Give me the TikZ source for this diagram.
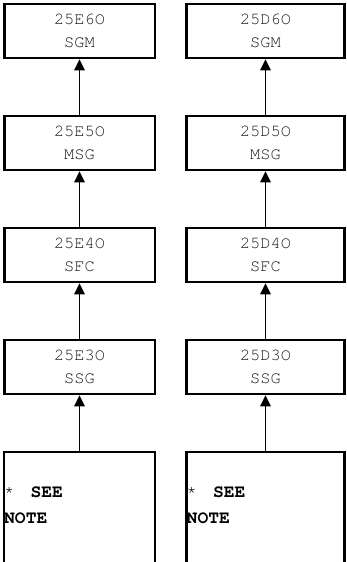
\documentclass[tikz,border=0pt]{standalone}
\usepackage{fontspec}
\setmonofont{texgyrecursor}[Extension=.otf, UprightFont=*-regular, BoldFont=*-bold, ItalicFont=*-italic, BoldItalicFont=*-bolditalic]
\usetikzlibrary{arrows.meta}
\begin{document}
\begin{tikzpicture}[x=1pt,y=-1pt,
  box/.style={draw=black, line width=2.7pt, minimum height=54pt, inner sep=0pt,
    align=center, font=\fontsize{17}{23}\selectfont\ttfamily, text=black!90},
  lbox/.style={box, minimum width=150.7pt},
  rbox/.style={box, minimum width=158pt},
  link/.style={line width=1.5pt, -{Triangle[length=11pt,width=10.5pt]}},
  opn/.style={line width=2.7pt},
  note/.style={anchor=west, inner sep=0pt, align=left,
    font=\fontsize{17}{26}\selectfont\ttfamily}
]
\useasboundingbox (0,0) rectangle (346,562);
% left column
\node[lbox] (l1) at (79.5,31) {25E6O\\SGM};
\node[lbox] (l2) at (79.5,143) {25E5O\\MSG};
\node[lbox] (l3) at (79.5,255) {25E4O\\SFC};
\node[lbox] (l4) at (79.5,367) {25E3O\\SSG};
% right column
\node[rbox] (r1) at (265.5,31) {25D6O\\SGM};
\node[rbox] (r2) at (265.5,143) {25D5O\\MSG};
\node[rbox] (r3) at (265.5,255) {25D4O\\SFC};
\node[rbox] (r4) at (265.5,367) {25D3O\\SSG};
% open bottom boxes
\draw[opn] (4,562) -- (4,452) -- (154.85,452) -- (154.85,562);
\draw[opn] (186.5,562) -- (186.5,452) -- (344.5,452) -- (344.5,562);
\coordinate (l5) at (79.5,450.65);
\coordinate (r5) at (265.5,450.65);
\node[note] (ln) at (4,505) {*~\hspace{6pt}{\fontsize{18}{26}\selectfont\bfseries SEE}\\{\fontsize{18}{26}\selectfont\bfseries NOTE}};
\node[note] (rn) at (186.5,505) {*~\hspace{6pt}{\fontsize{18}{26}\selectfont\bfseries SEE}\\{\fontsize{18}{26}\selectfont\bfseries NOTE}};
% connectors
\draw[link] (l2.north) -- (l1.south);
\draw[link] (l3.north) -- (l2.south);
\draw[link] (l4.north) -- (l3.south);
\draw[link] (l5) -- (l4.south);
\draw[link] (r2.north) -- (r1.south);
\draw[link] (r3.north) -- (r2.south);
\draw[link] (r4.north) -- (r3.south);
\draw[link] (r5) -- (r4.south);
\end{tikzpicture}
\end{document}
